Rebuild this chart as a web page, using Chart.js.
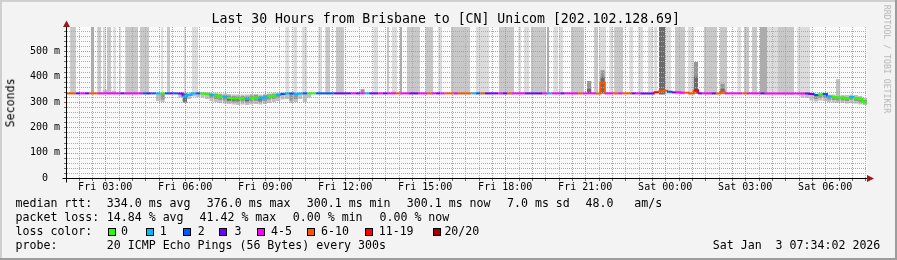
<!DOCTYPE html>
<html><head><meta charset="utf-8">
<script src="https://cdn.jsdelivr.net/npm/chart.js@4.4.1/dist/chart.umd.min.js"></script>
<style>
html,body{margin:0;padding:0;background:#f3f3f3;}
#wrap{position:relative;width:897px;height:260px;overflow:hidden;}
#c{position:absolute;left:0;top:0;}
.t{position:absolute;white-space:pre;font-family:'DejaVu Sans Mono',monospace;line-height:1;color:#000;}
.lg{font-size:11.6px;}
.box{position:absolute;width:6px;height:6px;border:1px solid #000;top:228px;}
</style></head><body>
<div id="wrap">
<canvas id="c" width="897" height="260"></canvas>
<div class="t" style="left:211.5px;top:11.8px;font-size:13.2px">Last 30 Hours from Brisbane to [CN] Unicom [202.102.128.69]</div>
<div class="t lg" style="left:-19px;top:96.7px;width:60px;text-align:center;transform:rotate(-90deg)">Seconds</div>
<div class="t" style="left:826.9px;top:54.9px;width:120px;text-align:center;font-size:8.2px;color:#b4b4b4;transform:rotate(90deg)">RRDTOOL / TOBI OETIKER</div>
<div class="t lg" style="left:15.5px;top:197.8px">median rtt:</div>
<div class="t lg" style="left:106.8px;top:197.8px">334.0 ms avg</div>
<div class="t lg" style="left:206.8px;top:197.8px">376.0 ms max</div>
<div class="t lg" style="left:306.8px;top:197.8px">300.1 ms min</div>
<div class="t lg" style="left:406.8px;top:197.8px">300.1 ms now</div>
<div class="t lg" style="left:507px;top:197.8px">7.0 ms sd</div>
<div class="t lg" style="left:585.5px;top:197.8px">48.0   am/s</div>
<div class="t lg" style="left:15.5px;top:211.8px">packet loss:</div>
<div class="t lg" style="left:106.8px;top:211.8px">14.84 % avg</div>
<div class="t lg" style="left:199.5px;top:211.8px">41.42 % max</div>
<div class="t lg" style="left:292.8px;top:211.8px">0.00 % min</div>
<div class="t lg" style="left:379.5px;top:211.8px">0.00 % now</div>
<div class="t lg" style="left:15.5px;top:225.8px">loss color:</div>
<div id="legend"></div>
<div class="t lg" style="left:15.5px;top:239.6px">probe:</div>
<div class="t lg" style="left:106.8px;top:239.6px">20 ICMP Echo Pings (56 Bytes) every 300s</div>
<div class="t lg" style="left:712.8px;top:239.6px">Sat Jan  3 07:34:02 2026</div>
</div>
<script>
// ---------------- DATA ----------------
const lossLabels = ['0','1','2','3','4-5','6-10','11-19','20/20'];
const lossColors = ['#26ff00','#00b8ff','#0059ff','#7000ff','#ff00ff','#ff5500','#ff0000','#a10000'];
const columnMinutes = 10; // each column = 10 minutes, start Fri 01:34:02, 180 columns

const medianMs = [
 334,334,334,334,334,334,334,334,334,334,
 334,334,334,334,334,334,334,334,334,334,
 334,334,334,334,334,334,322,328,334,334,
 334,332,328,326,322,320,316,314,314,316,
 312,316,318,314,318,324,326,328,332,334,
 334,332,334,334,334,334,334,334,334,334,
 334,334,334,334,334,334,334,334,334,334,
 334,334,334,334,334,334,334,334,334,334,
 334,334,334,334,334,334,334,334,334,334,
 334,334,334,334,334,334,334,334,334,334,
 334,334,334,334,334,334,334,334,334,334,
 334,334,334,334,334,334,334,334,334,334,
 376,334,334,334,334,334,334,334,334,334,
 334,334,338,342,344,340,338,338,336,336,
 334,346,334,334,334,334,334,340,334,334,
 334,334,334,334,334,334,334,334,334,334,
 334,334,334,334,334,334,334,332,328,330,
 332,322,320,318,318,316,320,316,312,300.1
];

const lossCode = [
 5,5,3,4,3,5,5,4,4,4,
 4,4,3,4,4,4,4,2,3,2,
 1,0,2,3,2,3,1,1,1,2,
 0,0,1,0,0,1,0,0,0,0,
 1,0,0,1,1,0,0,1,2,1,
 2,1,1,2,0,0,2,2,2,2,
 3,3,3,3,4,3,4,1,3,3,
 4,3,4,4,5,4,4,3,3,4,
 4,5,4,3,4,5,5,4,5,5,
 5,1,2,5,3,3,3,4,3,5,
 4,4,4,3,3,3,3,4,1,4,
 4,3,4,4,4,5,4,4,4,5,
 5,4,4,5,4,5,5,3,4,3,
 3,3,6,5,5,2,3,4,4,5,
 5,6,3,4,4,3,5,5,4,4,
 4,4,5,4,4,4,3,4,4,4,
 4,4,4,4,4,4,3,3,2,0,
 2,1,0,0,0,0,1,0,0,0
];

// tall smoke bars reaching the top: [fromMinute, toMinute, shadeLevel]
const tallBars = [
 [7,20,2],[54,61,3],[68,77,2],[81,88,1],[90,99,2],[104,110,1],[117,122,1],[131,160,2],[164,185,2],
 [212,216,1],[225,232,2],[263,268,1],[281,295,1],[491,500,1],[509,518,1],[529,540,1],[565,574,1],
 [581,592,2],[605,623,2],[689,700,1],[720,725,2],[731,743,1],[749,754,3],[765,794,2],[806,824,2],
 [835,844,1],[864,907,2],[920,950,1],[972,1006,2],[1015,1022,1],[1028,1040,1],[1044,1078,2],
 [1080,1085,3],[1094,1105,1],[1107,1116,1],[1134,1163,2],[1186,1195,2],[1197,1213,1],[1220,1229,1],
 [1231,1251,2],[1265,1274,1],[1285,1296,1],[1307,1319,1],[1321,1328,1],[1332,1346,4],[1346,1359,1],
 [1368,1391,2],[1397,1411,1],[1433,1463,2],[1469,1485,2],[1508,1517,1],[1523,1535,2],[1541,1553,2],
 [1559,1575,3],[1575,1598,1],[1598,1636,2],[1643,1672,1]
];

// smoke around the median: [column, lowMs, highMs, densityLevel]
const smokeRows = [
 [8,334,348,1],[9,334,380,1],[10,334,344,1],
 [20,304,334,1],[21,300,334,1],[21,310,334,2],
 [25,318,334,1],[26,296,336,2],[26,302,334,3],[27,312,336,1],
 [28,322,336,1],[29,320,336,1],[30,318,338,1],[31,312,338,1],
 [32,304,336,1],[32,316,334,2],
 [33,300,336,1],[33,312,332,2],
 [34,296,334,1],[34,308,330,2],
 [35,294,334,1],[35,306,328,2],
 [36,292,332,1],[36,302,326,2],[36,306,320,3],
 [37,290,330,1],[37,300,324,2],[37,306,318,3],
 [38,288,330,1],[38,300,322,2],[38,306,318,3],
 [39,290,330,1],[39,302,324,2],
 [40,288,330,1],[40,298,322,2],[40,304,318,3],
 [41,290,332,1],[41,302,326,2],
 [42,292,332,1],[42,304,328,2],
 [43,290,330,1],[43,300,324,2],[43,306,320,3],
 [44,292,332,1],[44,304,328,2],
 [45,296,334,1],[45,310,330,2],
 [46,300,336,1],[46,312,332,2],
 [47,304,336,1],[47,316,334,2],
 [48,310,338,1],[49,312,336,1],
 [50,296,336,1],[50,306,334,2],
 [51,300,336,1],[51,312,334,2],
 [52,312,336,1],[53,300,336,1],[54,318,336,1],
 [66,334,350,2],[73,334,342,1],
 [117,334,383,2],[117,334,352,3],
 [120,334,425,2],[120,334,400,3],
 [124,334,344,1],
 [141,334,458,2],[141,334,400,3],
 [147,334,372,2],[147,334,352,3],
 [165,318,336,1],[166,316,336,1],[167,306,336,1],
 [168,302,334,1],[168,312,330,2],
 [169,306,336,1],[169,316,332,2],
 [170,304,336,1],[170,316,334,2],
 [171,300,330,1],[171,310,326,2],
 [172,298,330,1],[172,308,324,2],
 [173,296,390,1],[173,306,322,2],
 [174,296,328,1],[174,306,322,2],
 [175,294,328,1],[175,304,320,2],
 [176,296,330,1],[176,308,324,2],
 [177,294,328,1],[177,304,320,2],
 [178,290,324,1],[178,300,318,2],
 [179,288,316,1],[179,294,308,2]
];

const yGridValues = [0,20,40,60,80,100,120,140,160,180,200,220,240,260,280,300,320,340,360,380,400,420,440,460,480,500,520,540,560,580];
const yLabelValues = [0,100,200,300,400,500];
const yTickLabels = ['0  ','100 m','200 m','300 m','400 m','500 m'];
const xTickLabels = ['Fri 03:00','Fri 06:00','Fri 09:00','Fri 12:00','Fri 15:00','Fri 18:00','Fri 21:00','Sat 00:00','Sat 03:00','Sat 06:00'];

// ---------------- STYLE / BUILD ----------------
const tallShades = [null,'#dcdcdc','#c8c8c8','#acacac','#6b6b6b'];
const smokeShades = [null,'#c0c0c0','#969696','#6a6a6a'];
const RED = 'rgb(255,120,120)', GRAY = 'rgb(172,172,172)';
const MONO = "'DejaVu Sans Mono', monospace";

// x grid: every half hour (clock aligned), major every 3 hours
const startSec = 1*3600 + 34*60 + 2;
const xTicks = [];
for (let t = 2*3600; (t - startSec)/60 <= 1800; t += 1800) {
  xTicks.push({value: (t - startSec)/60, major: t % 10800 === 0});
}
let li = 0;
xTicks.forEach(tk => { if (tk.major) tk.lbl = xTickLabels[li++]; });
const xMajorValues = xTicks.filter(t => t.major).map(t => t.value);
const isMajorXv = v => xMajorValues.some(m => Math.abs(m - v) < 0.01);
const isMajorYv = v => v % 100 === 0;

const datasets = [];
const medianPts = medianMs.map((v,i) => ({x: i*columnMinutes, y: v}));
medianPts.push({x: medianMs.length*columnMinutes, y: medianMs[medianMs.length-1]});
datasets.push({
  data: medianPts, order: 0, stepped: true, borderWidth: 2, pointRadius: 0, fill: false,
  borderColor: lossColors[4],
  segment: { borderColor: c => lossColors[lossCode[c.p0DataIndex]] }
});
function rect(a, b, lo, hi, color, order) {
  datasets.push({
    data: [{x: a, y: hi}, {x: b, y: hi}], fill: {value: lo}, backgroundColor: color,
    borderWidth: 0, borderColor: 'rgba(0,0,0,0)', pointRadius: 0, order
  });
}
smokeRows.forEach(r => rect(r[0]*columnMinutes, (r[0]+1)*columnMinutes, r[1], r[2], smokeShades[r[3]], 4 - r[3]));
tallBars.forEach(b => rect(b[0], b[1], 330, 596, tallShades[b[2]], 5));

function drawGrid(chart) {
  const {ctx, chartArea: a} = chart;
  const xs = chart.scales.x, ys = chart.scales.y;
  ctx.save();
  ctx.lineWidth = 1;
  const pass = (major) => {
    ctx.setLineDash([1, 1]);
    ctx.strokeStyle = major ? RED : GRAY;
    ctx.beginPath();
    xs.ticks.forEach(t => {
      if (isMajorXv(t.value) !== major) return;
      const px = Math.round(xs.getPixelForValue(t.value)) + 0.5;
      ctx.moveTo(px, a.top); ctx.lineTo(px, a.bottom);
    });
    ys.ticks.forEach(t => {
      if (t.value === 0 || isMajorYv(t.value) !== major) return;
      const py = Math.round(ys.getPixelForValue(t.value)) + 0.5;
      ctx.moveTo(a.left, py); ctx.lineTo(a.right, py);
    });
    ctx.stroke();
    // small solid tick marks outside the plot
    ctx.setLineDash([]);
    ctx.strokeStyle = major ? 'rgb(200,70,70)' : 'rgb(110,110,110)';
    ctx.beginPath();
    xs.ticks.forEach(t => {
      if (isMajorXv(t.value) !== major) return;
      const px = Math.round(xs.getPixelForValue(t.value)) + 0.5;
      ctx.moveTo(px, a.bottom); ctx.lineTo(px, a.bottom + 3);
    });
    ys.ticks.forEach(t => {
      if (isMajorYv(t.value) !== major) return;
      const py = Math.round(ys.getPixelForValue(t.value)) + 0.5;
      ctx.moveTo(a.left - 3, py); ctx.lineTo(a.left, py);
    });
    ctx.stroke();
  };
  pass(false);
  pass(true);
  ctx.restore();
}

const frame = {
  id: 'frame',
  beforeDraw(chart) {
    const {ctx, chartArea: a} = chart;
    ctx.save();
    ctx.fillStyle = '#f3f3f3'; ctx.fillRect(0, 0, 897, 260);
    ctx.fillStyle = '#fafafa'; ctx.fillRect(a.left, a.top, a.right - a.left, a.bottom - a.top);
    ctx.fillStyle = '#cfcfcf'; ctx.fillRect(0, 0, 897, 2); ctx.fillRect(0, 0, 2, 260);
    ctx.fillStyle = '#9c9c9c'; ctx.fillRect(895, 0, 2, 260); ctx.fillRect(0, 258, 897, 2);
    ctx.restore();
  },
  beforeDatasetDraw(chart, args) {
    // grid goes over the smoke but under the median line (dataset 0, drawn last)
    if (args.index === 0) drawGrid(chart);
  },
  afterDraw(chart) {
    const {ctx} = chart;
    const xs = chart.scales.x, ys = chart.scales.y;
    const x0 = Math.round(xs.getPixelForValue(0)) - 0.5;
    const y0 = Math.round(ys.getPixelForValue(0)) + 0.5;
    const xEnd = xs.getPixelForValue(1800);
    const yTop = ys.getPixelForValue(596);
    ctx.save();
    ctx.strokeStyle = '#000'; ctx.lineWidth = 1;
    ctx.beginPath(); ctx.moveTo(x0, yTop - 3); ctx.lineTo(x0, y0 + 4); ctx.stroke();
    ctx.beginPath(); ctx.moveTo(x0 - 4, y0); ctx.lineTo(xEnd + 1, y0); ctx.stroke();
    ctx.fillStyle = '#9b1b1b';
    ctx.beginPath(); ctx.moveTo(x0 - 3.5, yTop); ctx.lineTo(x0 + 3.5, yTop); ctx.lineTo(x0, yTop - 6.5); ctx.closePath(); ctx.fill();
    ctx.beginPath(); ctx.moveTo(xEnd, y0 - 3.5); ctx.lineTo(xEnd, y0 + 3.5); ctx.lineTo(xEnd + 7, y0); ctx.closePath(); ctx.fill();
    ctx.restore();
  }
};

new Chart(document.getElementById('c'), {
  type: 'line',
  data: { datasets },
  plugins: [frame],
  options: {
    responsive: false, animation: false, devicePixelRatio: 1,
    layout: { padding: { left: 0, top: 27, right: 30, bottom: 0 } },
    plugins: { legend: { display: false }, tooltip: { enabled: false } },
    scales: {
      x: {
        type: 'linear', min: 0, max: 1800,
        afterBuildTicks: s => { s.ticks = xTicks.map(t => ({...t})); },
        afterFit: s => { s.height = 82; },
        grid: { drawOnChartArea: false, drawTicks: true, tickLength: 3, tickColor: 'rgba(0,0,0,0)' },
        border: { display: false },
        ticks: { autoSkip: false, maxRotation: 0, minRotation: 0, padding: 0, color: '#000',
                 font: { family: MONO, size: 10 },
                 callback: (v, i, t) => t[i].lbl || '' }
      },
      y: {
        type: 'linear', min: 0, max: 596,
        afterBuildTicks: s => { s.ticks = yGridValues.map(v => ({value: v})); },
        afterFit: s => { s.width = 67; },
        grid: { drawOnChartArea: false, drawTicks: true, tickLength: 3, tickColor: 'rgba(0,0,0,0)' },
        border: { display: false },
        ticks: { autoSkip: false, padding: 4, color: '#000', font: { family: MONO, size: 10 },
                 callback: v => { const k = yLabelValues.indexOf(v); return k >= 0 ? yTickLabels[k] : ''; } }
      }
    }
  }
});

// loss colour legend (boxes + labels)
const boxLeft = [108.3,145.7,182.7,219.3,256.7,306.7,365,433.3];
const labelLeft = [121,159.7,197.7,234.5,271.1,321.1,378.7,444.4];
const lg = document.getElementById('legend');
lossLabels.forEach((lab, i) => {
  const b = document.createElement('div');
  b.className = 'box'; b.style.left = boxLeft[i] + 'px'; b.style.background = lossColors[i];
  lg.appendChild(b);
  const t = document.createElement('div');
  t.className = 't lg'; t.style.left = labelLeft[i] + 'px'; t.style.top = '225.8px'; t.textContent = lab;
  lg.appendChild(t);
});
</script>
</body></html>
